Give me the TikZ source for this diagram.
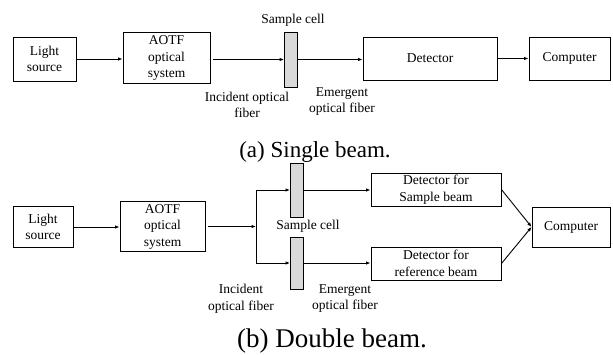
\documentclass[tikz,border=0pt]{standalone}
\usepackage{fontspec}
\setmainfont{Liberation Serif}
\usetikzlibrary{arrows.meta}

\begin{document}
\begin{tikzpicture}[x=1pt,y=-1pt,
        >={Latex[length=4.5pt,width=3.5pt]},
        line width=0.9pt,
        blk/.style={draw,inner sep=0pt,align=center,font=\fontsize{13.5}{16.5}\selectfont},
        cell/.style={draw,fill=gray!30,inner sep=0pt,minimum width=13pt},
        lbl/.style={align=center,font=\fontsize{13.5}{16.5}\selectfont}]
    \useasboundingbox (0,0) rectangle (613,354);

    % (a) single beam
    \node[blk,minimum width=63pt,minimum height=44pt] (ls1) at (44.5,59) {Light\\source};
    \node[blk,minimum width=87pt,minimum height=51pt] (aotf1) at (166.5,58) {AOTF\\optical\\system};
    \node[cell,minimum height=55pt] (cell1) at (291,59.5) {};
    \node[blk,minimum width=134pt,minimum height=43pt] (det1) at (430,58.5) {Detector};
    \node[blk,minimum width=81pt,minimum height=43pt] (comp1) at (569.5,58.5) {Computer};

    \draw[->] (ls1) -- (ls1 -| aotf1.west);
    \draw[->,shorten <=3pt] (aotf1.east |- cell1) -- (cell1.west);
    \draw[->] (cell1) -- (cell1 -| det1.west);
    \draw[->] (det1) -- (comp1);

    \node[lbl] (sc1) at (293,20) {Sample cell};
    \node[lbl] (inc1) at (247,105) {Incident optical\\fiber};
    \node[lbl] (em1) at (342,101.5) {Emergent\\optical fiber};
    \node[anchor=base,font=\fontsize{23}{27}\selectfont] (capa) at (315,157) {(a) Single beam.};

    % (b) double beam
    \node[blk,minimum width=60pt,minimum height=41pt] (ls2) at (43,227) {Light\\source};
    \node[blk,minimum width=85pt,minimum height=50pt] (aotf2) at (162.5,226.5) {AOTF\\optical\\system};
    \coordinate (br) at (256,226.5);
    \node[cell,minimum height=54pt] (cellA) at (297,190) {};
    \node[cell,minimum height=52pt] (cellB) at (297,263) {};
    \node[blk,minimum width=130pt,minimum height=33pt] (detA) at (436,189.5) {Detector for\\Sample beam};
    \node[blk,minimum width=130pt,minimum height=33pt] (detB) at (436,263.5) {Detector for\\reference beam};
    \node[blk,minimum width=78pt,minimum height=40pt] (comp2) at (571,227) {Computer};

    \draw[->] (ls2) -- (ls2 -| aotf2.west);
    \draw[->,shorten <=3pt] (aotf2.east) -- (br);
    \draw (br |- cellA) -- (br |- cellB);
    \foreach \c/\d in {cellA/detA,cellB/detB}
    {
        \draw[->] (br |- \c) -- (\c.west);
        \draw[->] (\c) -- (\c -| \d.west);
        \draw[->] (\d.east) -- (comp2.west);
    }

    \node[lbl] (sc2) at (308,226) {Sample cell};
    \node[lbl] (inc2) at (241,298.5) {Incident\\optical fiber};
    \node[lbl] (em2) at (345,298.5) {Emergent\\optical fiber};
    \node[anchor=base,font=\fontsize{27}{31}\selectfont] (capb) at (332,347) {(b) Double beam.};
\end{tikzpicture}
\end{document}
